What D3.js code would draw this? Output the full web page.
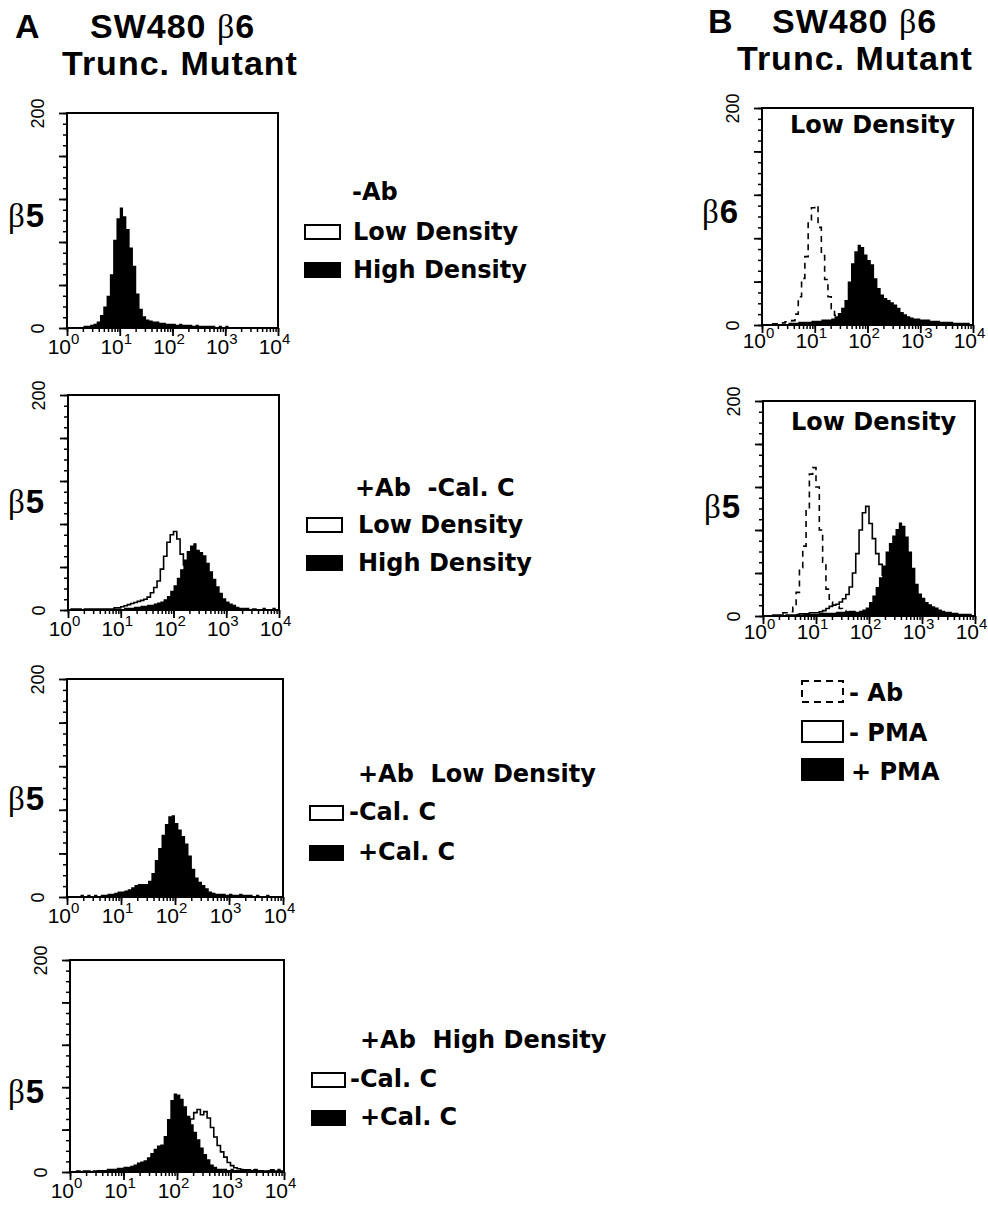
<!DOCTYPE html>
<html lang="en">
<head>
<meta charset="UTF-8" />
<title>SW480 β6 Trunc. Mutant</title>
<script src="https://d3js.org/d3.v7.min.js"></script>
<style>
  body { margin: 0; background: #fff; }
  svg { display: block; font-family: "Liberation Sans", Arial, sans-serif; }
  .title { font-size: 34px; font-weight: bold; letter-spacing: 1px; }
  .leg { font-family: "DejaVu Sans", sans-serif; font-size: 24px; font-weight: bold; }
  .greek { font-family: "Liberation Serif", "DejaVu Serif", serif; font-weight: normal; }
</style>
</head>
<body>
<div id="chart"></div>
<script>
// histogram counts, 16 channels per decade from 10^0 to 10^4 (64 bins)
const a1High = [0,0,0,1,1,2,2,3,4,6,12,20,30,50,82,102,
  112,104,92,75,58,32,18,11,8,7,6,6,5,5,4,4,
  4,3,4,3,3,3,2,3,2,2,2,2,2,1,2,1,
  2,1,1,1,1,1,0,1,1,0,1,0,0,0,0,0];

const a2Low = [0,1,1,1,0,1,1,1,1,1,1,1,1,1,2,2,
  3,4,5,6,7,8,9,10,12,16,21,27,38,50,63,70,
  73,66,52,42,32,24,17,12,8,6,4,3,2,2,1,1,
  1,1,0,1,0,1,0,0,1,0,0,0,0,0,0,0];
const a2High = [0,1,0,1,0,1,1,0,1,1,0,1,1,1,1,1,
  1,2,2,2,3,3,4,4,5,5,6,7,8,10,13,18,
  23,30,38,47,55,60,62,56,54,51,44,36,29,22,16,11,
  8,6,5,3,2,2,2,1,1,1,1,2,1,1,2,1];

const a3CalC = [0,1,1,1,2,1,2,1,2,1,2,2,3,3,4,5,
  5,6,7,9,11,12,12,12,15,22,34,45,57,67,74,75,
  68,62,56,49,38,26,18,14,11,8,5,4,3,3,3,2,
  3,2,2,3,2,2,2,1,2,1,1,2,1,1,1,1];

const a4NoCalC = [0,0,1,0,1,1,0,1,1,1,1,1,2,1,2,2,
  2,2,3,3,4,4,5,5,6,7,9,11,13,16,19,23,
  27,32,38,44,50,56,59,54,57,51,42,33,25,19,14,9,
  6,4,3,2,2,2,1,2,1,1,1,1,2,1,1,1];
const a4CalC = [0,1,1,1,1,0,1,1,2,2,2,3,3,3,4,4,
  5,5,6,7,9,10,11,14,18,22,25,26,34,50,68,74,
  73,69,62,53,45,38,31,23,17,12,7,5,3,3,3,2,
  3,2,2,3,2,2,2,3,2,2,1,2,2,1,3,1];

const b1NoAb = [0,0,0,1,1,2,2,3,3,4,10,26,43,63,95,108,
  110,90,64,42,26,15,9,6,4,3,2,2,1,1,1,0,
  1,0,0,0,0,0,0,0,0,0,0,0,0,0,0,0,
  0,0,0,0,0,0,0,0,0,0,0,0,0,0,0,0];
const b1Ab = [0,0,1,0,1,1,1,1,2,2,2,3,3,3,3,4,
  4,4,5,5,5,6,8,11,16,23,40,57,68,74,72,65,
  60,56,43,34,28,25,23,21,19,16,12,10,8,7,6,6,
  5,5,5,4,4,4,3,3,3,3,2,2,2,2,2,1];

const b2NoAb = [0,0,0,1,1,2,3,3,4,8,22,45,65,100,132,138,
  120,80,50,25,13,10,9,7,5,4,3,2,2,1,1,1,
  0,0,0,0,0,0,0,0,0,0,0,0,0,0,0,0,
  0,0,0,0,0,0,0,0,0,0,0,0,0,0,0,0];
const b2NoPMA = [0,0,0,0,0,1,0,1,1,1,1,2,2,2,3,3,
  3,4,5,7,9,10,11,13,16,20,27,40,58,80,96,102,
  86,72,58,48,38,28,20,14,9,6,4,3,2,2,1,1,
  1,1,1,0,1,0,0,1,0,0,0,0,0,0,0,0];
const b2PMA = [0,0,0,1,0,1,1,1,1,1,2,1,2,2,2,2,
  2,3,3,3,3,3,4,4,4,4,5,5,4,5,6,8,
  13,19,27,36,47,60,68,75,81,87,84,74,60,45,30,21,
  17,13,11,9,8,6,5,4,4,3,3,2,2,2,2,1];

const binsPerDecade = 16;
const xDomain = [1, 10000];
const yDomain = [0, 200];
const yMajor = [0, 40, 80, 120, 160, 200];
const yMinor = d3.range(0, 201, 10);
const decades = [1, 10, 100, 1000, 10000];

const width = 988, height = 1209;
const svg = d3.select("#chart").append("svg")
  .attr("width", width).attr("height", height);

// titles
function title(x, y, parts) {
  const t = svg.append("text").attr("class", "title").attr("x", x).attr("y", y);
  parts.forEach(p => t.append("tspan").attr("class", p.greek ? "greek" : null).text(p.t));
}
title(15, 38, [{ t: "A" }]);
title(90, 38, [{ t: "SW480 " }, { t: "β", greek: true }, { t: "6" }]);
title(62, 75, [{ t: "Trunc. Mutant" }]);
title(708, 33, [{ t: "B" }]);
title(772, 33, [{ t: "SW480 " }, { t: "β", greek: true }, { t: "6" }]);
title(737, 70, [{ t: "Trunc. Mutant" }]);

const panels = [
  { box: [67, 113, 278, 328], marker: "5", mx: 8, my: 227, layers: [{ v: a1High, type: "fill" }] },
  { box: [68, 395, 279, 610], marker: "5", mx: 8, my: 513, layers: [{ v: a2Low, type: "line" }, { v: a2High, type: "fill" }] },
  { box: [67, 679, 283, 897], marker: "5", mx: 8, my: 810, layers: [{ v: a3CalC, type: "fill" }] },
  { box: [70, 960, 284, 1172], marker: "5", mx: 8, my: 1103, layers: [{ v: a4NoCalC, type: "line" }, { v: a4CalC, type: "fill" }] },
  { box: [762, 108, 973, 325], marker: "6", mx: 702, my: 223, inset: "Low Density", insetY: 133, labelDy: 23,
    layers: [{ v: b1NoAb, type: "dash" }, { v: b1Ab, type: "fill" }] },
  { box: [763, 401, 975, 616], marker: "5", mx: 704, my: 518, inset: "Low Density", insetY: 430, labelDy: 23,
    layers: [{ v: b2NoAb, type: "dash" }, { v: b2NoPMA, type: "line" }, { v: b2PMA, type: "fill" }] }
];

function drawPanel(p) {
  const [x0, y0, x1, y1] = p.box;
  const x = d3.scaleLog().domain(xDomain).range([x0, x1]);
  const y = d3.scaleLinear().domain(yDomain).range([y1, y0]);
  const g = svg.append("g");

  // minor + major ticks on x
  g.append("g").attr("transform", `translate(0,${y1})`)
    .call(d3.axisBottom(x).tickValues(x.ticks()).tickSize(4).tickFormat(""))
    .call(a => a.select(".domain").remove())
    .call(a => a.selectAll("line").attr("stroke-width", 1.5));
  g.append("g").attr("transform", `translate(0,${y1})`)
    .call(d3.axisBottom(x).tickValues(decades).tickSize(8).tickFormat(""))
    .call(a => a.select(".domain").remove())
    .call(a => a.selectAll("line").attr("stroke-width", 1.8))
    .call(a => {
      a.attr("font-family", null).attr("font-size", 21);
      a.selectAll(".tick text").each(function (d) {
        const t = d3.select(this).attr("y", p.labelDy || 26).attr("dy", null)
          .attr("dx", -4).attr("fill", "#000");
        t.append("tspan").text("10");
        t.append("tspan").attr("dy", -10).attr("font-size", 15).text(Math.round(Math.log10(d)));
      });
    });

  // y ticks
  g.append("g").attr("transform", `translate(${x0},0)`)
    .call(d3.axisLeft(y).tickValues(yMinor).tickSize(4).tickFormat(""))
    .call(a => a.select(".domain").remove())
    .call(a => a.selectAll("line").attr("stroke-width", 1.5));
  g.append("g").attr("transform", `translate(${x0},0)`)
    .call(d3.axisLeft(y).tickValues(yMajor).tickSize(8).tickFormat(d => (d === 0 || d === 200) ? d : ""))
    .call(a => a.select(".domain").remove())
    .call(a => a.selectAll("line").attr("stroke-width", 1.8))
    .call(a => {
      a.attr("font-family", null).attr("font-size", 18);
      a.selectAll(".tick text")
        .attr("x", null).attr("dy", null).attr("fill", "#000")
        .attr("text-anchor", "middle")
        .attr("transform", "translate(-23,0) rotate(-90)");
    });

  // histograms
  const pts = v => {
    const a = v.map((c, i) => [Math.pow(10, i / binsPerDecade), c]);
    a.push([xDomain[1], v[v.length - 1]]);
    return a;
  };
  const area = d3.area().curve(d3.curveStepAfter)
    .x(d => x(d[0])).y0(y(0)).y1(d => y(d[1]));
  const line = d3.line().curve(d3.curveStepAfter)
    .x(d => x(d[0])).y(d => y(d[1]));

  p.layers.forEach(l => {
    if (l.type === "fill") {
      g.append("path").attr("d", area(pts(l.v))).attr("fill", "#000");
    } else {
      g.append("path").attr("d", line(pts(l.v)))
        .attr("fill", "none").attr("stroke", "#000").attr("stroke-width", 1.6)
        .attr("stroke-dasharray", l.type === "dash" ? "6,5" : null);
    }
  });

  g.append("rect").attr("x", x0).attr("y", y0)
    .attr("width", x1 - x0).attr("height", y1 - y0)
    .attr("fill", "none").attr("stroke", "#000").attr("stroke-width", 2);

  const m = svg.append("text").attr("x", p.mx).attr("y", p.my)
    .attr("font-size", 33).attr("font-weight", "bold").attr("letter-spacing", 1);
  m.append("tspan").attr("class", "greek").text("β");
  m.append("tspan").text(p.marker);

  if (p.inset) {
    svg.append("text").attr("class", "leg").attr("x", x0 + 28).attr("y", p.insetY).text(p.inset);
  }
}
panels.forEach(drawPanel);

// legends
const legends = [
  { head: "-Ab", hx: 352, hy: 200, w: 35, h: 14, rows: [
    { kind: "open", text: "Low Density", bx: 305, by: 225, tx: 353, ty: 240 },
    { kind: "fill", text: "High Density", bx: 305, by: 263, tx: 353, ty: 278 }] },
  { head: "+Ab  -Cal. C", hx: 355, hy: 496, w: 35, h: 14, rows: [
    { kind: "open", text: "Low Density", bx: 307, by: 518, tx: 358, ty: 533 },
    { kind: "fill", text: "High Density", bx: 307, by: 556, tx: 358, ty: 571 }] },
  { head: "+Ab  Low Density", hx: 358, hy: 782, w: 33, h: 14, rows: [
    { kind: "open", text: "-Cal. C", bx: 310, by: 806, tx: 349, ty: 820 },
    { kind: "fill", text: "+Cal. C", bx: 310, by: 846, tx: 358, ty: 860 }] },
  { head: "+Ab  High Density", hx: 360, hy: 1048, w: 33, h: 14, rows: [
    { kind: "open", text: "-Cal. C", bx: 312, by: 1073, tx: 350, ty: 1087 },
    { kind: "fill", text: "+Cal. C", bx: 312, by: 1111, tx: 360, ty: 1125 }] },
  { w: 41, h: 21, rows: [
    { kind: "dash", text: "- Ab", bx: 802, by: 681, tx: 849, ty: 701 },
    { kind: "open", text: "- PMA", bx: 802, by: 721, tx: 849, ty: 741 },
    { kind: "fill", text: "+ PMA", bx: 802, by: 759, tx: 851, ty: 780 }] }
];

legends.forEach(L => {
  if (L.head) {
    svg.append("text").attr("class", "leg").attr("x", L.hx).attr("y", L.hy)
      .attr("xml:space", "preserve").style("white-space", "pre").text(L.head);
  }
  L.rows.forEach(r => {
    svg.append("rect").attr("x", r.bx).attr("y", r.by).attr("width", L.w).attr("height", L.h)
      .attr("fill", r.kind === "fill" ? "#000" : "#fff")
      .attr("stroke", "#000").attr("stroke-width", 2)
      .attr("stroke-dasharray", r.kind === "dash" ? "7,5" : null);
    svg.append("text").attr("class", "leg").attr("x", r.tx).attr("y", r.ty).text(r.text);
  });
});
</script>
</body>
</html>
